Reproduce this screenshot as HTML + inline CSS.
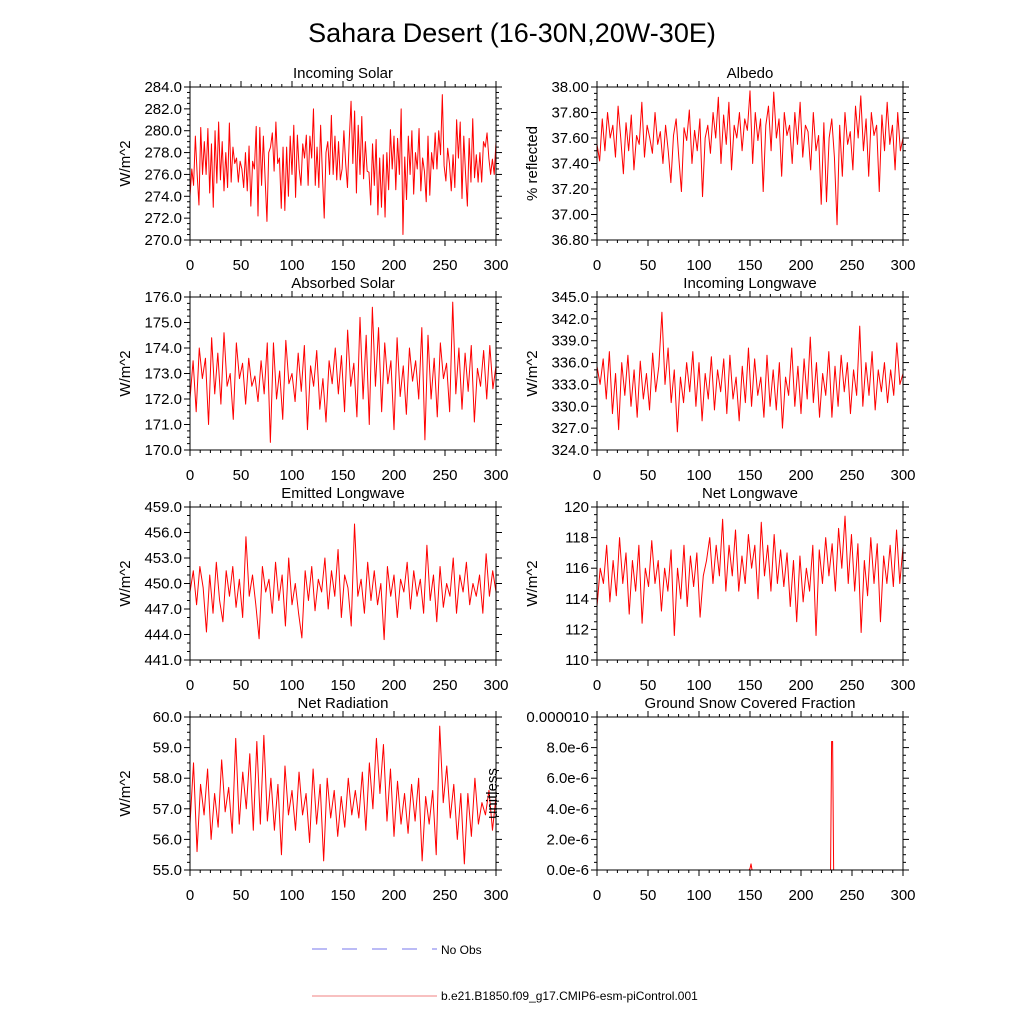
<!DOCTYPE html>
<html><head><meta charset="utf-8"><style>
body{margin:0;background:#fff;}
svg text{font-family:"Liberation Sans",sans-serif;fill:#000;}
</style></head><body>
<svg id="c" width="1024" height="1024" viewBox="0 0 1024 1024">
<text x="512" y="42" font-size="27" text-anchor="middle">Sahara Desert (16-30N,20W-30E)</text>
<g>
<line x1="312" y1="949" x2="437" y2="949" stroke="#7777ee" stroke-width="1" stroke-dasharray="15,15"/>
<text x="441" y="954" font-size="12">No Obs</text>
<line x1="312" y1="996" x2="437" y2="996" stroke="#f08080" stroke-width="1"/>
<text x="441" y="1000" font-size="12">b.e21.B1850.f09_g17.CMIP6-esm-piControl.001</text>
</g>
</svg>
<script>
const incomingSolar=[274,276.5,275,279.5,276,273.2,280.3,276,279,276,280.2,274.3,278.8,273,280,275.2,280.8,275.5,279,274.5,278,274.8,280.7,275.3,278.5,277,277.5,275.3,277.2,276.5,274.8,278,274.5,278.6,273.1,277.2,276.5,280.4,272.2,280.3,275,279.5,275.5,271.7,278,278.5,279.8,276.3,280.8,277,277.5,272.9,278.5,272.7,278.5,274,279.5,276,280.5,273.9,279.6,276.5,275,278.8,277.5,279.6,275,279.5,277.5,282,275,278.5,274.8,280.5,276,272,278,279,276,281.4,276,279.5,275.5,279,275.5,276.5,280,277,274.8,279.2,282.7,277,281.8,274.3,280.5,276,281.3,275.6,279,276.3,276.2,273.2,278.8,275,279.2,272.3,277.5,273,277.8,272.1,278,274.6,280.1,276.5,279.5,274.6,279.3,276,282,270.5,277.6,273.7,279.5,276,280,274.2,278,276.5,280.2,274.5,277.5,276.3,273.5,279.5,274.1,278,276.5,279.8,276.5,280,277.8,283.3,276.8,275.4,278.4,277,274.5,277.8,274.8,281,277.5,280.8,273.8,279.5,276,273.1,279.3,275.3,281.1,275.7,277.8,275.3,278,275.3,279,278.5,279.8,277.5,276,277.4,276,279];
const albedo=[37.55,37.42,37.75,37.5,37.8,37.6,37.7,37.45,37.85,37.6,37.32,37.72,37.5,37.78,37.35,37.62,37.55,37.88,37.45,37.7,37.6,37.48,37.8,37.55,37.65,37.4,37.7,37.5,37.25,37.62,37.75,37.45,37.18,37.68,37.58,37.82,37.4,37.66,37.5,37.75,37.14,37.6,37.7,37.48,37.8,37.6,37.92,37.4,37.78,37.55,37.88,37.35,37.7,37.6,37.8,37.5,37.75,37.66,37.97,37.4,37.8,37.58,37.75,37.18,37.7,37.85,37.5,37.96,37.6,37.75,37.3,37.8,37.62,37.7,37.4,37.8,37.55,37.88,37.45,37.7,37.65,37.35,37.8,37.5,37.62,37.08,37.72,37.1,37.6,37.75,37.45,36.92,37.7,37.3,37.8,37.55,37.65,37.35,37.85,37.6,37.93,37.5,37.75,37.3,37.8,37.62,37.7,37.18,37.78,37.5,37.88,37.55,37.7,37.35,37.8,37.5,37.6];
const absorbedSolar=[172,173.5,171.5,174,172.8,173.6,171,174.4,172.2,173.8,171.8,174.6,172.5,173,171.2,174.2,172.8,173.4,171.8,173.6,172.5,172.9,171.9,173.5,172.2,174.2,170.3,174.2,172,173.1,171.2,174.3,172.6,173,171.9,173.8,172.3,174.1,170.8,173.3,172.5,173.9,171.6,172.8,171.1,173.5,172.6,174,172.2,173.7,171.5,174.7,172.5,173.4,171.3,175.2,172,174.5,171,175.6,172.5,174.8,171.5,174.2,172.6,173.5,170.8,174.4,172.1,173.3,171.4,174,172.7,173.5,172,174.8,170.4,174.5,172,173.6,171.3,174.2,172.8,173.4,171.5,175.8,172.2,174,171.6,173.8,172.3,174.1,171.1,173.2,172.5,173.9,172,174.1,172.4,173.3];
const incomingLW=[335.5,333,336.5,331,337.5,329,334.5,326.8,336,331.5,337,330,335,328.5,336.2,331,334.5,329.5,337.3,332,335.5,342.9,333,338,330.5,335,326.5,334,330.5,336,332,337.5,330,336,328,334.5,331,336.8,329.5,335,332,336.5,329,337,331,334,328,335.5,330.5,338,330,336.5,331.5,334,328.5,337,330,335,329.5,336,327,334,331.5,338,330,335.5,329,336.5,331,339.5,330.5,336,328.5,334.5,331.5,337.5,328.5,335.5,330,337,332,336,329,335,331.5,341,330,336,331.5,337.5,329.5,335,332,336,330.5,335,331.5,338.7,333,334.5];
const emittedLW=[449,451.5,447.5,452,449.5,444.3,451,446.5,452.5,448,445.5,451.5,448.5,452,447.2,450.5,446,455.5,448.5,451,447.5,443.5,452,449,450.5,446.5,452.5,448,451,445,453,447.5,450,446.5,443.6,451.5,448,452,446.8,450.5,449,453,447,451.5,448.5,454,446,451,449.5,445,457,448.5,450.5,446.5,452.5,448,451.5,447.5,450,443.4,452,448.5,451,446,450.5,449,452.5,447,451.5,448.5,450.5,446.5,454.5,448,451,445.5,452,447.2,450,448.5,453,446.5,451,449,452.5,447.5,450,448.5,451,446.5,453.5,448.5,451.5,449];
const netLW=[113.5,116,115,117.5,113.8,116.5,114.2,118,115,117,113,116.5,114.5,117.5,112.4,116,114.8,117.8,115,116.5,113.2,116,114.5,117.2,111.6,116,114,117.5,113.5,116.8,114.8,117,112.8,115.5,116.5,118,115,117.5,115.5,119.2,114.5,117.5,115.5,118.5,114.5,116.8,115,118.2,116,117.5,114,119,115.5,117.5,114.5,118.2,115,117.2,114.8,117,113.5,116.5,112.5,116.8,113.8,116,114.5,117.5,111.6,117.2,115,118,115.5,117.6,114.5,118.6,116,119.4,115,118.2,114.5,117.6,111.8,116.5,114.2,118,115,117.6,112.5,116.8,115,117.5,114.8,118.5,115,117.4];
const netRadiation=[56.5,58.5,55.6,57.8,56.8,58.3,56,57.5,56.4,58.6,56.9,57.7,56.2,59.3,56.5,58.2,57,58.8,56.3,59.2,56.5,59.4,56.6,58,56.3,57.8,55.5,58.4,56.8,57.6,56.3,58.2,56.8,57.5,55.9,58.3,56.5,57.8,55.3,58,56.7,57.6,56.1,57.4,56.4,58,56.8,57.6,56.7,58.2,56.3,58.5,57,59.3,57.5,59.1,56.6,58.3,56.1,57.9,56.5,57.5,56.2,57.8,56.6,58,55.3,57.4,56.5,57.6,55.5,59.7,57.2,58.4,56.7,57.8,56,57.5,55.2,57.5,56.1,58,56.5,57.2,56.8,57.6,56.3,57.4];
const snowYears=[0,149,150,151,152,228,229,230,231,232,233,300];
const snowValues=[0,0,0.1e-6,0.4e-6,0,0,0,8.4e-6,8.4e-6,0,0,0];

const svg=document.getElementById('c');
const NS='http://www.w3.org/2000/svg';
function mk(tag,attrs,parent){const e=document.createElementNS(NS,tag);for(const k in attrs)e.setAttribute(k,attrs[k]);(parent||svg).appendChild(e);return e;}

function panel(name,title,ytitle,L,T,ymin,ymax,ystep,yminor,fmt,xs,vals,ytOff){
  const W=306,H=153;
  const g=mk('g',{});
  
  
  const sx=v=>L+v/300*W, sy=v=>T+H-(v-ymin)/(ymax-ymin)*H;
  let d='';
  vals.forEach((v,i)=>{const x=xs?xs[i]:i*300/(vals.length-1);d+=(i?'L':'M')+sx(x).toFixed(2)+','+sy(v).toFixed(2);});
  const p=mk('path',{d:d,fill:'none',stroke:'#ff0000','stroke-width':1,'stroke-linejoin':'round'},g);
  
  
  const fr=mk('rect',{x:L,y:T,width:W,height:H,fill:'none',stroke:'#000','stroke-width':1},g);
  
  
  for(let v=0;v<=300;v+=10){const x=sx(v);const maj=v%50===0;const len=maj?6:3;
    mk('line',{x1:x,y1:T+H,x2:x,y2:T+H+len,stroke:'#000'},g);
    mk('line',{x1:x,y1:T,x2:x,y2:T-len,stroke:'#000'},g);
    if(maj){const t=mk('text',{x:x,y:T+H+30,'font-size':15,'text-anchor':'middle'},g);t.textContent=v;
      
      }}
  const n=Math.round((ymax-ymin)/yminor);
  for(let i=0;i<=n;i++){const v=ymin+i*yminor;const y=sy(v);const maj=Math.abs(((v-ymin)/ystep)-Math.round((v-ymin)/ystep))<1e-6;const len=maj?6:3;
    mk('line',{x1:L,y1:y,x2:L-len,y2:y,stroke:'#000'},g);
    mk('line',{x1:L+W,y1:y,x2:L+W+len,y2:y,stroke:'#000'},g);
    if(maj){const t=mk('text',{x:L-8,y:y+5,'font-size':15,'text-anchor':'end'},g);t.textContent=fmt(v);
      
      }}
  const tt=mk('text',{x:L+W/2,y:T-9,'font-size':15,'text-anchor':'middle'},g);tt.textContent=title;
  
  
  const yt=mk('text',{x:0,y:0,'font-size':15,'text-anchor':'middle',transform:`translate(${L-(ytOff||60)},${T+H/2}) rotate(-90)`},g);yt.textContent=ytitle;
  
  
}
const f1=v=>v.toFixed(1), f2=v=>v.toFixed(2), f0=v=>v.toFixed(0);
const LX=190,RX=597,R1=87,R2=297,R3=507,R4=717;
panel('incoming-solar','Incoming Solar','W/m^2',LX,R1,270,284,2,0.5,f1,null,incomingSolar);
panel('albedo','Albedo','% reflected',RX,R1,36.8,38.0,0.2,0.05,f2,null,albedo);
panel('absorbed-solar','Absorbed Solar','W/m^2',LX,R2,170,176,1,0.25,f1,null,absorbedSolar);
panel('incoming-longwave','Incoming Longwave','W/m^2',RX,R2,324,345,3,1,f1,null,incomingLW);
panel('emitted-longwave','Emitted Longwave','W/m^2',LX,R3,441,459,3,1,f1,null,emittedLW);
panel('net-longwave','Net Longwave','W/m^2',RX,R3,110,120,2,0.5,f0,null,netLW);
panel('net-radiation','Net Radiation','W/m^2',LX,R4,55,60,1,0.25,f1,null,netRadiation);
panel('ground-snow','Ground Snow Covered Fraction','unitless',RX,R4,0,1e-5,2e-6,5e-7,v=>v>9.9e-6?'0.000010':(v*1e6).toFixed(1)+'e-6',snowYears,snowValues,100);
</script>
</body></html>
